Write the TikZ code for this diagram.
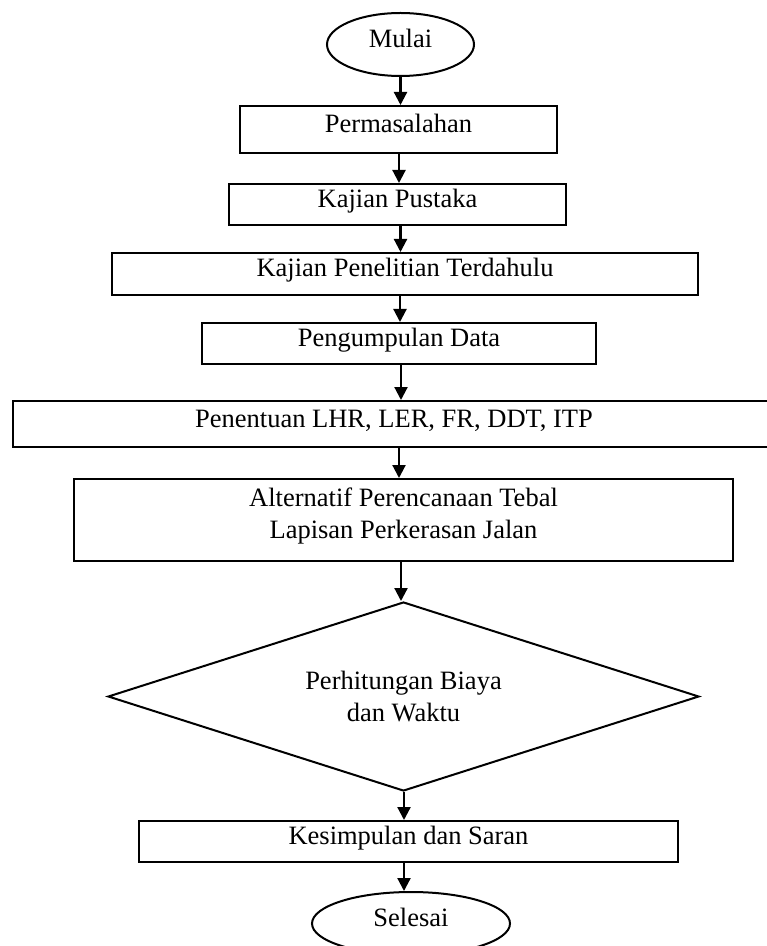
\documentclass[tikz,border=0pt]{standalone}
\usepackage{fontspec}
\setmainfont{Liberation Serif}
\usetikzlibrary{shapes.geometric,arrows.meta}
\begin{document}
\begin{tikzpicture}[x=0.5pt,y=-0.5pt,
  every node/.style={font=\fontsize{13.25}{16}\selectfont, align=center, inner sep=0pt},
  one/.style={text height=9pt, text depth=6pt},
  box/.style={rectangle, draw=black, line width=1pt},
  term/.style={ellipse, draw=black, line width=1pt},
  dec/.style={diamond, aspect=3.13, draw=black, line width=1pt},
  arr/.style={line width=1.1pt, -{Triangle[width=6.5pt,length=6.5pt]}}]
\useasboundingbox (0,0) rectangle (766,946);

\node[term, one, minimum width=73.5pt, minimum height=31.5pt] (mulai) at (400.5,44.5) {Mulai};
\node[box, one, minimum width=158.5pt, minimum height=23.5pt] (perm) at (398.5,129.5) {Permasalahan};
\node[box, one, minimum width=168.5pt, minimum height=20.5pt] (pust) at (397.5,204.5) {Kajian Pustaka};
\node[box, one, minimum width=293pt, minimum height=21pt] (pen) at (405,274) {Kajian Penelitian Terdahulu};
\node[box, one, minimum width=197pt, minimum height=20.5pt] (data) at (399,343.5) {Pengumpulan Data};
\node[box, one, minimum width=381pt, minimum height=23pt] (lhr) at (394,424) {Penentuan LHR, LER, FR, DDT, ITP};
\node[box, minimum width=329.5pt, minimum height=41pt] (alt) at (403.5,520) {Alternatif Perencanaan Tebal\\Lapisan Perkerasan Jalan\\[-9pt]\mbox{}};
\node[dec, minimum width=295.5pt, minimum height=94.5pt] (dia) at (403.5,696.5) {Perhitungan Biaya\\dan Waktu};
\node[box, one, minimum width=269.5pt, minimum height=20.5pt] (kes) at (408.5,841.5) {Kesimpulan dan Saran};
\node[term, one, minimum width=99pt, minimum height=31.5pt] (sel) at (411,923.5) {Selesai};

\coordinate (ax1) at (400.5,0);
\coordinate (ax2) at (399,0);
\coordinate (ax3) at (400.5,0);
\coordinate (ax4) at (400,0);
\coordinate (ax5) at (401,0);
\coordinate (ax6) at (399,0);
\coordinate (ax7) at (401,0);
\coordinate (ax8) at (404,0);
\coordinate (ax9) at (404,0);

\draw[arr] (mulai.south -| ax1) -- (perm.north -| ax1);
\draw[arr] (perm.south -| ax2) -- (pust.north -| ax2);
\draw[arr] (pust.south -| ax3) -- (pen.north -| ax3);
\draw[arr] (pen.south -| ax4) -- (data.north -| ax4);
\draw[arr] (data.south -| ax5) -- (lhr.north -| ax5);
\draw[arr] (lhr.south -| ax6) -- (alt.north -| ax6);
\draw[arr] (alt.south -| ax7) -- (dia.north -| ax7);
\draw[arr] (dia.south -| ax8) -- (kes.north -| ax8);
\draw[arr] (kes.south -| ax9) -- (sel.north -| ax9);
\end{tikzpicture}
\end{document}
